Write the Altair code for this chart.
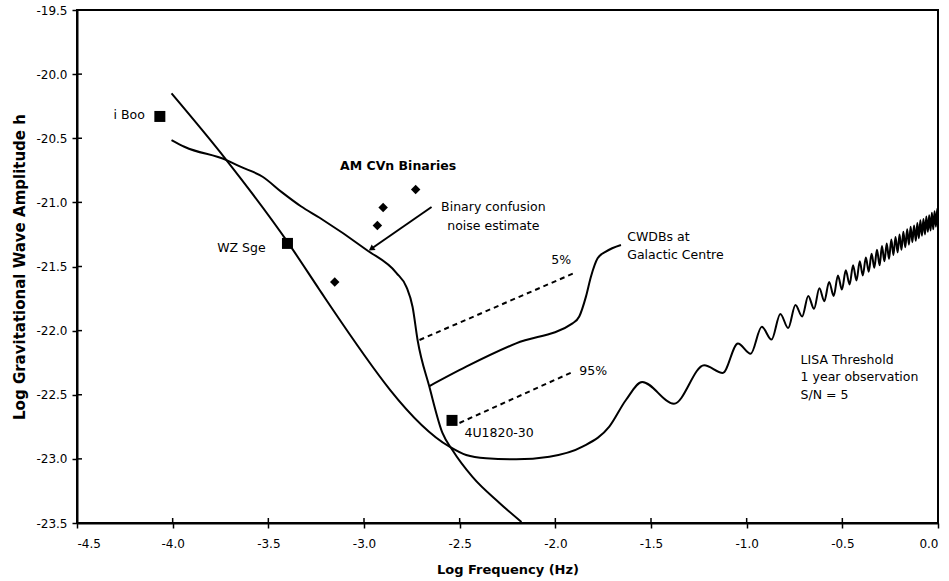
import altair as alt
import pandas as pd

# ---------------- data ----------------
# LISA threshold curve (low-frequency branch, bucket, then response wiggles)
lisa_x = [-4.006, -3.719, -3.397, -3.232, -3.197, -2.553, -2.466, -2.362, -2.205,
          -2.031, -1.858, -1.718, -1.631,
          -1.546, -1.38, -1.222, -1.125, -1.046, -0.979, -0.921, -0.870, -0.824,
          -0.783, -0.745, -0.710, -0.678, -0.648, -0.620, -0.594, -0.569, -0.545,
          -0.523, -0.502, -0.482, -0.462, -0.444, -0.426, -0.409, -0.393, -0.377,
          -0.362, -0.347, -0.333, -0.319, -0.305, -0.293, -0.280, -0.268, -0.256,
          -0.244, -0.233, -0.222, -0.211, -0.201, -0.191, -0.181, -0.171, -0.161,
          -0.152, -0.143, -0.134, -0.125, -0.116, -0.108, -0.100, -0.092, -0.084,
          -0.076, -0.068, -0.061, -0.053, -0.046, -0.039, -0.032, -0.025, -0.018,
          -0.011, -0.004, 0.0]
lisa_y = [-20.150, -20.670, -21.314, -21.683, -21.761, -22.905, -22.970, -22.995, -23.003,
          -22.983, -22.905, -22.749, -22.541,
          -22.40, -22.57, -22.27, -22.33, -22.10, -22.18, -21.97, -22.07, -21.87,
          -21.98, -21.80, -21.89, -21.73, -21.83, -21.67, -21.77, -21.62, -21.73,
          -21.57, -21.68, -21.53, -21.64, -21.49, -21.61, -21.46, -21.57, -21.43,
          -21.54, -21.40, -21.51, -21.37, -21.49, -21.34, -21.46, -21.32, -21.44,
          -21.29, -21.41, -21.27, -21.39, -21.25, -21.37, -21.23, -21.35, -21.21,
          -21.33, -21.19, -21.31, -21.18, -21.30, -21.16, -21.28, -21.14, -21.26,
          -21.13, -21.25, -21.11, -21.23, -21.10, -21.22, -21.08, -21.21, -21.07,
          -21.19, -21.05, -21.12]

# Binary confusion noise estimate
conf_x = [-4.006, -3.936, -3.719, -3.649, -3.53, -3.43, -3.33, -3.232, -2.986,
          -2.830, -2.778, -2.746, -2.720, -2.658, -2.590, -2.538, -2.433, -2.292, -2.177]
conf_y = [-20.514, -20.568, -20.670, -20.720, -20.800, -20.920, -21.030, -21.120, -21.371,
          -21.551, -21.660, -21.816, -22.073, -22.440, -22.798, -22.931, -23.141, -23.344, -23.492]

# CWDBs at Galactic Centre: median (solid), 5% and 95% (dashed)
cw50_x = [-2.658, -2.466, -2.205, -1.910, -1.875, -1.840, -1.814, -1.779, -1.736, -1.657]
cw50_y = [-22.432, -22.281, -22.099, -21.943, -21.890, -21.735, -21.580, -21.436, -21.384, -21.332]
cw05_x = [-2.710, -1.901]
cw05_y = [-22.073, -21.551]
cw95_x = [-2.501, -1.911]
cw95_y = [-22.720, -22.323]

# Individual sources
sq_name = ["i Boo", "WZ Sge", "4U1820-30"]
sq_x = [-4.067, -3.400, -2.540]
sq_y = [-20.33, -21.32, -22.70]
am_x = [-2.73, -2.90, -2.93, -3.153]
am_y = [-20.90, -21.04, -21.18, -21.62]

# Arrow (Binary confusion noise estimate)
arrow_x = [-2.647, -2.958]
arrow_y = [-21.036, -21.358]

# Annotation texts
lab_right = ["i Boo", "WZ Sge"]
lab_right_x = [-4.145, -3.514]
lab_right_y = [-20.32, -21.356]
lab_center = ["Binary confusion", "noise estimate", "5%"]
lab_center_x = [-2.324, -2.324, -1.969]
lab_center_y = [-21.036, -21.185, -21.45]
lab_left = ["95%", "4U1820-30", "CWDBs at", "Galactic  Centre",
            "LISA Threshold", "1 year observation", "S/N = 5"]
lab_left_x = [-1.875, -2.475, -1.624, -1.624, -0.718, -0.718, -0.718]
lab_left_y = [-22.312, -22.796, -21.272, -21.41, -22.229, -22.362, -22.50]
lab_bold = ["AM CVn Binaries"]
lab_bold_x = [-2.822]
lab_bold_y = [-20.72]

x_ticks = [-4.5, -4.0, -3.5, -3.0, -2.5, -2.0, -1.5, -1.0, -0.5, 0.0]
y_ticks = [-23.5, -23.0, -22.5, -22.0, -21.5, -21.0, -20.5, -20.0, -19.5]

# ---------------- chart ----------------
W, H = 861, 513
FONT = "DejaVu Sans"
label_expr = "replace(format(datum.value, '.1f'), '\u2212', '-')"

xs = alt.Scale(domain=[-4.5, 0.0], nice=False, zero=False)
ys = alt.Scale(domain=[-23.5, -19.5], nice=False, zero=False)

X = alt.X("x:Q", scale=xs,
          axis=alt.Axis(values=x_ticks, title="Log Frequency (Hz)", labelExpr=label_expr,
                        grid=False, tickSize=5, labelPadding=10, titlePadding=14,
                        titleFontSize=13))
Y = alt.Y("y:Q", scale=ys,
          axis=alt.Axis(values=y_ticks, title="Log Gravitational Wave Amplitude h",
                        labelExpr=label_expr, grid=False, tickSize=5, labelPadding=5,
                        titlePadding=8, titleFontSize=15))


def df(xv, yv, **extra):
    d = pd.DataFrame({"x": xv, "y": yv})
    for k, v in extra.items():
        d[k] = v
    return d


line_style = dict(color="black", strokeWidth=2, interpolate="monotone", clip=True)

lisa = alt.Chart(df(lisa_x, lisa_y)).mark_line(strokeWidth=2, color="black",
                                               interpolate="monotone", clip=True).encode(x=X, y=Y)
conf = alt.Chart(df(conf_x, conf_y)).mark_line(**line_style).encode(x="x:Q", y="y:Q")
cw50 = alt.Chart(df(cw50_x, cw50_y)).mark_line(**line_style).encode(x="x:Q", y="y:Q")
cw05 = alt.Chart(df(cw05_x, cw05_y)).mark_line(color="black", strokeWidth=2,
                                               strokeDash=[5, 4]).encode(x="x:Q", y="y:Q")
cw95 = alt.Chart(df(cw95_x, cw95_y)).mark_line(color="black", strokeWidth=2,
                                               strokeDash=[5, 4]).encode(x="x:Q", y="y:Q")
arrow = alt.Chart(df(arrow_x, arrow_y)).mark_line(color="black", strokeWidth=2).encode(
    x="x:Q", y="y:Q")
head = alt.Chart(df(arrow_x[1:], arrow_y[1:])).mark_point(
    shape="triangle", angle=235, size=45, filled=True, color="black", opacity=1).encode(
    x="x:Q", y="y:Q")

squares = alt.Chart(df(sq_x, sq_y, name=sq_name)).mark_square(
    size=121, color="black", opacity=1).encode(x="x:Q", y="y:Q")
diamonds = alt.Chart(df(am_x, am_y)).mark_point(
    shape="diamond", size=90, filled=True, color="black", opacity=1).encode(x="x:Q", y="y:Q")

tstyle = dict(font=FONT, fontSize=12.5, color="black", baseline="middle")
t_right = alt.Chart(df(lab_right_x, lab_right_y, t=lab_right)).mark_text(
    align="right", **tstyle).encode(x="x:Q", y="y:Q", text="t:N")
t_center = alt.Chart(df(lab_center_x, lab_center_y, t=lab_center)).mark_text(
    align="center", **tstyle).encode(x="x:Q", y="y:Q", text="t:N")
t_left = alt.Chart(df(lab_left_x, lab_left_y, t=lab_left)).mark_text(
    align="left", **tstyle).encode(x="x:Q", y="y:Q", text="t:N")
t_bold = alt.Chart(df(lab_bold_x, lab_bold_y, t=lab_bold)).mark_text(
    align="center", fontWeight="bold", **tstyle).encode(x="x:Q", y="y:Q", text="t:N")

# inner halves of the crossing tick marks
xin = alt.Chart(pd.DataFrame({"x": x_ticks})).mark_rule(color="black", strokeWidth=1.5).encode(
    x="x:Q", y=alt.value(H - 5), y2=alt.value(H))
yin = alt.Chart(pd.DataFrame({"y": y_ticks})).mark_rule(color="black", strokeWidth=1.5).encode(
    y="y:Q", x=alt.value(0), x2=alt.value(5))

chart = alt.layer(
    lisa, conf, cw50, cw05, cw95, arrow, head, squares, diamonds,
    t_right, t_center, t_left, t_bold, xin, yin
).properties(
    width=W, height=H,
    padding={"left": 77, "top": 10, "right": 11, "bottom": 58},
    autosize=alt.AutoSizeParams(type="none"),
    background="white",
).configure_view(
    stroke="black", strokeWidth=2
).configure_axis(
    domainColor="black", domainWidth=2, tickColor="black", tickWidth=1.5,
    labelFont=FONT, labelFontSize=12, labelColor="black",
    titleFont=FONT, titleFontWeight="bold", titleColor="black",
)

chart.save("out.html", embed_options={"renderer": "svg", "actions": False})
